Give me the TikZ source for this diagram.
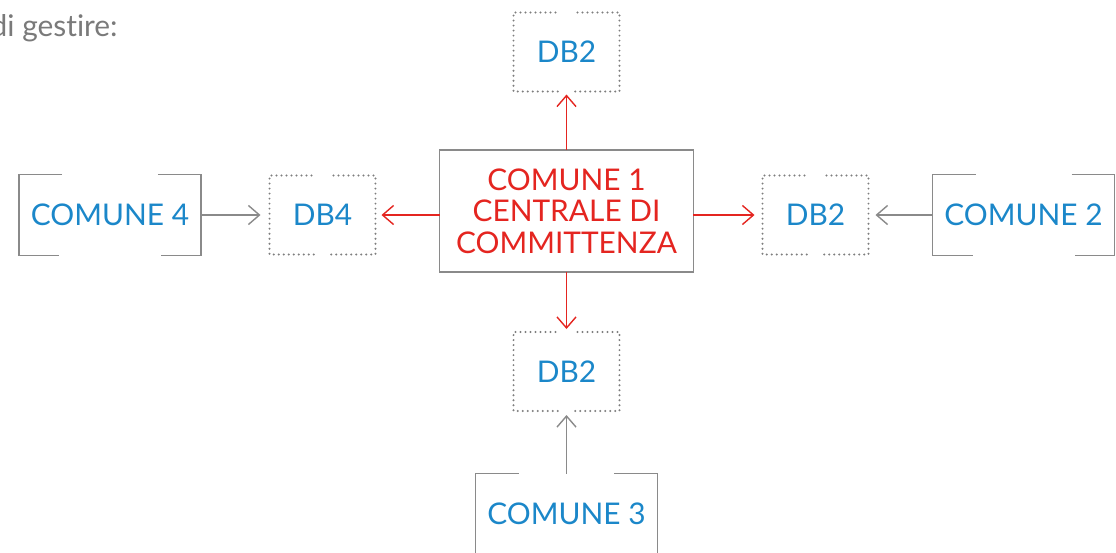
\documentclass[tikz,border=0pt]{standalone}
\usepackage{fontspec}
\setmainfont{Lato}[Ligatures=NoCommon]
\usepackage{xcolor}
\usetikzlibrary{positioning,arrows.meta}
\definecolor{dbblue}{HTML}{1B87C9}
\definecolor{ccred}{HTML}{E42520}
\definecolor{linegray}{HTML}{8A8A8A}
\definecolor{dotgray}{HTML}{7E7E7E}
\definecolor{textgray}{HTML}{7A7A7A}

\begin{document}
\begin{tikzpicture}[x=0.02cm,y=-0.02cm,
    dbframe/.style={draw=dotgray,line width=1.25pt,line cap=round,dash pattern=on 0pt off 2.85pt},
    cframe/.style={draw=linegray,line width=1pt}]
            \useasboundingbox (0,0) rectangle (1116,552);
            \node[anchor=base east,inner sep=0pt,text=textgray,font=\fontsize{17}{20}\selectfont] (intro) at (118,36) {di gestire:};

            \begin{scope}[every node/.style={inner sep=0pt,outer sep=0pt,align=center,font=\fontsize{17}{17.9}\selectfont}]
                \node[draw=linegray,line width=1.1pt,text=ccred,minimum width=5.08cm,minimum height=2.44cm] (C1) at (566.5,211) {COMUNE 1\\CENTRALE DI\\COMMITTENZA};
                \node[text=dbblue,minimum width=2.12cm,minimum height=1.58cm] (DBN) at (566.5,52) {DB2};
                \node[text=dbblue,minimum width=2.12cm,minimum height=1.58cm] (DBE) at (815.5,215) {DB2};
                \node[text=dbblue,minimum width=2.12cm,minimum height=1.58cm] (DBS) at (566.5,371.5) {DB2};
                \node[text=dbblue,minimum width=2.12cm,minimum height=1.58cm] (DBW) at (322.5,215) {DB4};
                \node[text=dbblue,minimum width=3.64cm,minimum height=1.62cm] (CW) at (110,215) {COMUNE 4};
                \node[text=dbblue,minimum width=3.64cm,minimum height=1.62cm] (CE) at (1023.5,215) {COMUNE 2};
                \node[text=dbblue,minimum width=3.64cm,minimum height=1.62cm] (CS) at (566.5,514) {COMUNE 3};
            \end{scope}

            % dotted frames, open in the middle
            \foreach \n in {DBN,DBE,DBS,DBW} {
                \draw[dbframe] ([xshift=-0.22cm]\n.north) -| (\n.south west) -- ([xshift=-0.16cm]\n.south);
                \draw[dbframe] ([xshift=0.22cm]\n.north) -| (\n.south east) -- ([xshift=0.16cm]\n.south);
            }
            % bracket frames
            \foreach \n in {CW,CE,CS} {
                \draw[cframe] ([xshift=0.86cm]\n.north west) -- (\n.north west) -- (\n.south west) -- ([xshift=0.8cm]\n.south west);
                \draw[cframe] ([xshift=-0.86cm]\n.north east) -- (\n.north east) -- (\n.south east) -- ([xshift=-0.8cm]\n.south east);
            }

            \begin{scope}[>={Straight Barb[length=0.22cm,width=0.38cm]},
                          every edge/.style={draw=ccred,line width=0.8pt}]
                \path [->] (C1) edge [shorten >=0.06cm] (DBN);
                \path [->] (C1) edge [shorten >=0.06cm] (DBS);
                \path [->] (C1.east |- DBE) edge [shorten >=0.16cm] (DBE);
                \path [->] (C1.west |- DBW) edge [shorten >=0.12cm] (DBW);
            \end{scope}

            \begin{scope}[>={Straight Barb[length=0.22cm,width=0.38cm]},
                          every edge/.style={draw=linegray,line width=0.8pt}]
                \path [->] (CW) edge [shorten >=0.18cm] (DBW);
                \path [->] (CE) edge [shorten >=0.14cm] (DBE);
                \path [->] (CS) edge [shorten >=0.08cm] (DBS);
            \end{scope}
        \end{tikzpicture}
\end{document}
